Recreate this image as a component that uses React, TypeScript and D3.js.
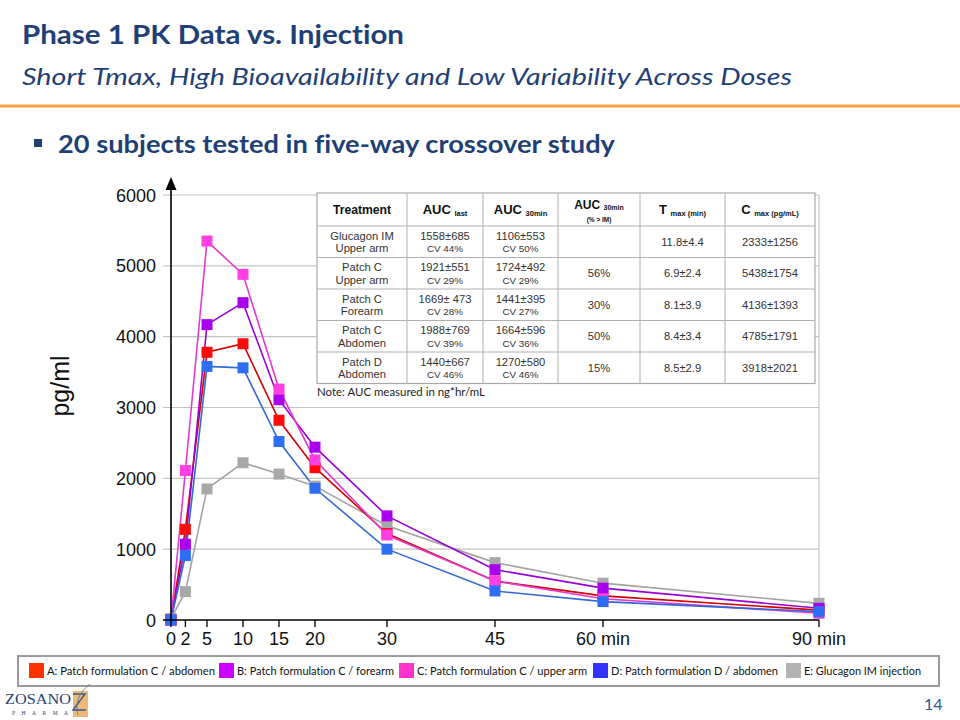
import React from "react";
import * as d3 from "d3";

// ---------- data ----------
const times = [0, 2, 5, 10, 15, 20, 30, 45, 60, 90];
const xTickLabels = ["0", "2", "5", "10", "15", "20", "30", "45", "60 min", "90 min"];
const yTicks = [0, 1000, 2000, 3000, 4000, 5000, 6000];

const seriesA = [0, 1280, 3780, 3900, 2820, 2150, 1220, 550, 340, 140];
const seriesB = [0, 1070, 4170, 4480, 3110, 2440, 1470, 710, 450, 165];
const seriesC = [0, 2110, 5350, 4880, 3260, 2260, 1200, 550, 300, 95];
const seriesD = [0, 910, 3580, 3560, 2520, 1860, 1000, 410, 260, 118];
const seriesE = [20, 400, 1850, 2220, 2060, 1890, 1330, 810, 520, 235];

const legendLabels = [
  "A: Patch formulation C / abdomen",
  "B: Patch formulation C / forearm",
  "C: Patch formulation C / upper arm",
  "D: Patch formulation D / abdomen",
  "E: Glucagon IM injection",
];

const tableTreatment = [
  ["Glucagon IM", "Upper arm"],
  ["Patch C", "Upper arm"],
  ["Patch C", "Forearm"],
  ["Patch C", "Abdomen"],
  ["Patch D", "Abdomen"],
];
const tableAucLast = [
  ["1558±685", "CV 44%"],
  ["1921±551", "CV 29%"],
  ["1669± 473", "CV 28%"],
  ["1988±769", "CV 39%"],
  ["1440±667", "CV 46%"],
];
const tableAuc30 = [
  ["1106±553", "CV 50%"],
  ["1724±492", "CV 29%"],
  ["1441±395", "CV 27%"],
  ["1664±596", "CV 36%"],
  ["1270±580", "CV 46%"],
];
const tableAucPct = ["", "56%", "30%", "50%", "15%"];
const tableTmax = ["11.8±4.4", "6.9±2.4", "8.1±3.9", "8.4±3.4", "8.5±2.9"];
const tableCmax = ["2333±1256", "5438±1754", "4136±1393", "4785±1791", "3918±2021"];

// ---------- styles ----------
const NAVY = "#1f3f77";
const series = [
  { key: "E", values: seriesE, line: "#a3a3a3", fill: "#a8a8a8" },
  { key: "A", values: seriesA, line: "#d40000", fill: "#ff0a0a" },
  { key: "B", values: seriesB, line: "#9a00d6", fill: "#a900ef" },
  { key: "C", values: seriesC, line: "#e23ad2", fill: "#ff3fe2" },
  { key: "D", values: seriesD, line: "#3468d6", fill: "#2e6ef2" },
];
const legendColors = ["#ff3300", "#cc00ff", "#ff33cc", "#3333ff", "#b3b3b3"];
const legendX = [29, 219, 399, 593, 786];
const legendTextW = [168, 157, 170, 167, 117];

const AX = "'Liberation Sans', Arial, sans-serif";
const CAL = "Lato, 'Open Sans', sans-serif";
const noLig = { fontVariantLigatures: "none" as const, fontFeatureSettings: "'liga' 0, 'clig' 0" };

export default function App() {
  const x = d3.scaleLinear().domain([0, 90]).range([171, 819]);
  const y = d3.scaleLinear().domain([0, 6000]).range([620, 195]);
  const line = d3
    .line<number>()
    .x((_, i) => x(times[i]))
    .y((d) => y(d));

  const colX = [317, 407, 483, 558, 640, 725, 815];
  const rowY = [193, 226, 257.5, 289, 320.5, 352, 383.5];
  const cx = (i: number) => (colX[i] + colX[i + 1]) / 2;
  const cy = (r: number) => (rowY[r + 1] + rowY[r + 2]) / 2;

  const twoLine = (c: number, r: number, a: string, b: string, small: number) => (
    <g key={`${c}-${r}`}>
      <text x={cx(c)} y={cy(r) - 2} textAnchor="middle" fontSize={11.2} fill="#333">
        {a}
      </text>
      <text x={cx(c)} y={cy(r) + 10.5} textAnchor="middle" fontSize={small} fill="#333">
        {b}
      </text>
    </g>
  );
  const oneLine = (c: number, r: number, a: string) => (
    <text key={`${c}-${r}`} x={cx(c)} y={cy(r) + 4} textAnchor="middle" fontSize={11.2} fill="#333">
      {a}
    </text>
  );

  return (
    <svg
      width={960}
      height={720}
      style={{ position: "absolute", left: 0, top: 0, display: "block", background: "#fff", ...noLig }}
    >
      {/* header */}
      <text x={22} y={44} fontFamily={CAL} fontWeight={700} fontSize={27} fill={NAVY} textLength={382} lengthAdjust="spacingAndGlyphs" style={noLig}>
        Phase 1 PK Data vs. Injection
      </text>
      <text x={22} y={85} fontFamily={CAL} fontStyle="italic" fontSize={24} fill={NAVY} textLength={770} lengthAdjust="spacingAndGlyphs" style={noLig}>
        Short Tmax, High Bioavailability and Low Variability Across Doses
      </text>
      <rect x={0} y={104.5} width={960} height={3} fill="#f0a43a" />
      <rect x={34} y={139} width={8} height={8} fill={NAVY} />
      <text x={58} y={153} fontFamily={CAL} fontWeight={700} fontSize={25} fill={NAVY} textLength={557} lengthAdjust="spacingAndGlyphs" style={noLig}>
        20 subjects tested in five-way crossover study
      </text>

      {/* grid */}
      {yTicks.slice(1).map((t) => (
        <line key={t} x1={163} x2={819} y1={y(t)} y2={y(t)} stroke="#c4c4c4" strokeWidth={1.2} />
      ))}
      <line x1={819} x2={819} y1={y(6000)} y2={y(0)} stroke="#c4c4c4" strokeWidth={1.2} />

      {/* y labels */}
      {yTicks.map((t) => (
        <text key={t} x={156} y={y(t) + 6.5} textAnchor="end" fontFamily={AX} fontSize={18} fill="#111">
          {t}
        </text>
      ))}
      <text
        transform="translate(69,386) rotate(-90)"
        textAnchor="middle"
        fontFamily={AX}
        fontSize={25}
        fill="#111"
      >
        pg/ml
      </text>

      {/* table */}
      <g fontFamily={AX}>
        <rect x={colX[0]} y={rowY[0]} width={colX[6] - colX[0]} height={rowY[6] - rowY[0]} fill="#fff" stroke="#a8a8a8" strokeWidth={1.2} />
        {rowY.slice(1, 6).map((ry, i) => (
          <line key={i} x1={colX[0]} x2={colX[6]} y1={ry} y2={ry} stroke="#b0b0b0" strokeWidth={1} />
        ))}
        {colX.slice(1, 6).map((c, i) => (
          <line key={i} x1={c} x2={c} y1={rowY[0]} y2={rowY[6]} stroke="#b0b0b0" strokeWidth={1} />
        ))}
        <text x={cx(0)} y={214} textAnchor="middle" fontSize={12.2} fontWeight={700} fill="#111">
          Treatment
        </text>
        <text x={cx(1)} y={214} textAnchor="middle" fill="#111">
          <tspan fontSize={13} fontWeight={700}>AUC </tspan>
          <tspan fontSize={7.5} fontWeight={700} dy={2}>last</tspan>
        </text>
        <text x={cx(2)} y={214} textAnchor="middle" fill="#111">
          <tspan fontSize={13} fontWeight={700}>AUC </tspan>
          <tspan fontSize={7.5} fontWeight={700} dy={2}>30min</tspan>
        </text>
        <text x={cx(3)} y={209} textAnchor="middle" fill="#111">
          <tspan fontSize={12} fontWeight={700}>AUC </tspan>
          <tspan fontSize={7} fontWeight={700} dy={1}>30min</tspan>
        </text>
        <text x={cx(3)} y={222} textAnchor="middle" fontSize={6.5} fontWeight={700} fill="#111">
          (% &gt; IM)
        </text>
        <text x={cx(4)} y={214} textAnchor="middle" fill="#111">
          <tspan fontSize={13} fontWeight={700}>T </tspan>
          <tspan fontSize={7.5} fontWeight={700} dy={2}>max (min)</tspan>
        </text>
        <text x={cx(5)} y={214} textAnchor="middle" fill="#111">
          <tspan fontSize={13} fontWeight={700}>C </tspan>
          <tspan fontSize={7.5} fontWeight={700} dy={2}>max (pg/mL)</tspan>
        </text>
        {tableTreatment.map((v, r) => twoLine(0, r, v[0], v[1], 11.2))}
        {tableAucLast.map((v, r) => twoLine(1, r, v[0], v[1], 9.8))}
        {tableAuc30.map((v, r) => twoLine(2, r, v[0], v[1], 9.8))}
        {tableAucPct.map((v, r) => oneLine(3, r, v))}
        {tableTmax.map((v, r) => oneLine(4, r, v))}
        {tableCmax.map((v, r) => oneLine(5, r, v))}
      </g>
      <text x={317} y={396} fontFamily={CAL} fontSize={12} fill="#222" textLength={168} lengthAdjust="spacingAndGlyphs">
        Note: AUC measured in ng*hr/mL
      </text>

      {/* series */}
      {series.map((s) => (
        <path key={s.key} d={line(s.values) || ""} fill="none" stroke={s.line} strokeWidth={1.6} />
      ))}
      {series.map((s) => (
        <g key={s.key}>
          {s.values.map((v, i) => (
            <rect key={i} x={x(times[i]) - 5.5} y={y(v) - 5.5} width={11} height={11} fill={s.fill} />
          ))}
        </g>
      ))}

      {/* axes */}
      <line x1={163} x2={819} y1={620} y2={620} stroke="#000" strokeWidth={1.6} />
      {times.map((t) => (
        <line key={t} x1={x(t)} x2={x(t)} y1={620} y2={627} stroke="#000" strokeWidth={1.3} />
      ))}
      <line x1={171} x2={171} y1={620} y2={186} stroke="#000" strokeWidth={1.6} />
      <path d="M171,177 L165.5,190 L176.5,190 Z" fill="#000" />
      {times.map((t, i) => (
        <text key={t} x={x(t)} y={645} textAnchor="middle" fontFamily={AX} fontSize={18} fill="#111">
          {xTickLabels[i]}
        </text>
      ))}

      {/* legend */}
      <rect x={18} y={656} width={921} height={30} fill="#fff" stroke="#9a9a9a" strokeWidth={2} />
      {legendLabels.map((l, i) => (
        <g key={l}>
          <rect x={legendX[i]} y={663} width={15} height={15} fill={legendColors[i]} />
          <text x={legendX[i] + 18} y={675} fontFamily={CAL} fontSize={12} fill="#111" textLength={legendTextW[i]} lengthAdjust="spacingAndGlyphs" style={noLig}>
            {l}
          </text>
        </g>
      ))}

      {/* logo */}
      <rect x={73} y={691} width={15} height={26} fill="#f0b878" />
      <text x={5} y={704} fontFamily="'Liberation Serif', serif" fontSize={15} fill="#2b3f73" textLength={66} lengthAdjust="spacingAndGlyphs">
        ZOSANO
      </text>
      <text x={12} y={715} fontFamily="'Liberation Serif', serif" fontSize={5.5} fill="#2b3f73" textLength={56} lengthAdjust="spacing">
        PHARMA
      </text>
      <path d="M73,694 L85,694 L73,710 L86,710" fill="none" stroke="#3a5a8a" strokeWidth={1.4} />
      <path d="M78,715 C74,700 82,690 90,684" fill="none" stroke="#3a7aa0" strokeWidth={0.8} />
      <text x={924} y={710} fontFamily={CAL} fontSize={16} fill="#2f5597">
        14
      </text>
    </svg>
  );
}
